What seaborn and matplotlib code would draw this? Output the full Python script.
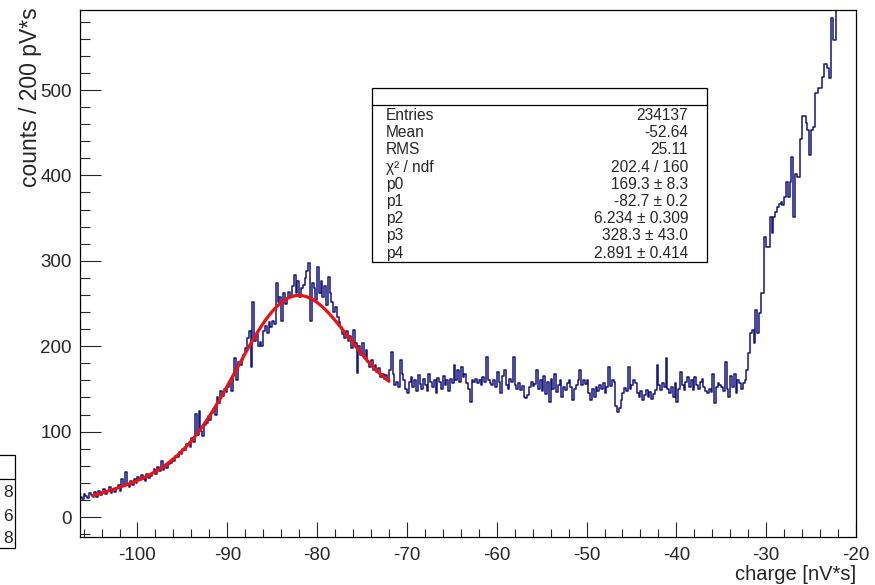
import numpy as np
import pandas as pd
import matplotlib
matplotlib.use("Agg")
import matplotlib.pyplot as plt
import seaborn as sns
from matplotlib.patches import Rectangle
from matplotlib.lines import Line2D
from matplotlib.ticker import MultipleLocator

# ---------------- data ----------------
bin_start = -106.4
bin_width = 0.2

counts_left_tail = [
    24, 21, 27, 25, 22, 28, 26, 23, 29, 24,
    31, 26, 29, 33, 27, 30, 35, 28, 32, 29,
    34, 38, 31, 44, 36, 53, 39, 35, 42, 37,
    44, 40, 47, 43, 49, 45, 42, 50, 46, 48,
    52, 56, 50, 58, 54, 66, 55, 60, 57, 62,
    63, 68, 66, 72, 70, 76, 74, 80, 78, 85,
    86, 82, 92, 88, 121, 96, 124, 101, 95, 108,
    110, 118, 114, 122, 127, 120, 140, 133, 148, 142,
]
counts_peak = [
    150, 146, 152, 158, 148, 165, 186, 160, 182, 178,
    184, 190, 198, 210, 218, 176, 252, 206, 214, 200,
    205, 200, 218, 224, 216, 228, 222, 230, 226, 274,
    252, 258, 230, 262, 250, 256, 264, 258, 270, 283,
    262, 276, 258, 268, 272, 280, 288, 297, 230, 274,
    268, 254, 293, 262, 276, 258, 270, 248, 281, 262,
    252, 240, 246, 234, 228, 222, 214, 210, 218, 206,
    212, 198, 219, 204, 169, 200, 190, 204, 186, 196,
    182, 176, 184, 172, 178, 170, 174, 164, 168, 162,
    166, 160, 172, 193, 168, 155, 158, 152, 184, 168,
]
counts_plateau = [
    160, 150, 145, 158, 164, 152, 160, 148, 166, 156,
    150, 162, 155, 147, 168, 158, 152, 160, 145, 163,
    158, 150, 165, 155, 160, 148, 162, 157, 178, 160,
    172, 158, 176, 164, 168, 157, 150, 135, 160, 158,
    162, 157, 160, 155, 164, 158, 187, 160, 157, 155,
    160, 152, 170, 158, 145, 165, 172, 155, 150, 162,
    158, 187, 155, 150, 157, 149, 154, 141, 139, 143,
    152, 158, 154, 156, 172, 150, 160, 148, 165, 144,
    158, 135, 162, 150, 168, 146, 155, 160, 141, 152,
    149, 157, 160, 152, 137, 150, 155, 160, 172, 155,
    160, 156, 160, 145, 137, 150, 140, 152, 148, 155,
    150, 157, 145, 152, 176, 154, 160, 158, 130, 123,
    128, 137, 145, 151, 148, 176, 150, 155, 160, 157,
    145, 140, 148, 137, 143, 149, 140, 146, 138, 144,
    149, 178, 155, 149, 157, 152, 186, 150, 145, 152,
    141, 157, 135, 150, 170, 155, 149, 158, 164, 152,
    160, 149, 164, 155, 150, 158, 162, 152, 148, 145,
    150, 146, 168, 133, 152, 157, 155, 152, 148, 181,
    150, 141, 165, 152, 168, 145, 160, 157, 150, 157,
]
counts_rise = [
    160, 172, 192, 215, 219, 204, 242, 215, 239, 262,
    262, 328, 316, 316, 351, 332, 351, 357, 363, 366,
    369, 365, 375, 392, 375, 392, 422, 351, 402, 398,
    398, 443, 469, 469, 461, 453, 424, 453, 457, 496,
    496, 502, 502, 515, 531, 531, 526, 514, 584, 558,
    558, 610, 620, 640, 650, 660, 670, 690, 700, 715, 730, 745,
]

# fit: gaus(p0,p1,p2) + pol1(p3,p4)
fit_params = [169.3, -82.7, 6.234, 328.3, 2.891]
fit_range = [-105.0, -72.0]

stat_labels = ["Entries", "Mean", "RMS", "\u03c7\u00b2 / ndf", "p0", "p1", "p2", "p3", "p4"]
stat_values = ["234137", "-52.64", "25.11", "202.4 / 160",
               "169.3 \u00b1 8.3", "-82.7 \u00b1 0.2", "6.234 \u00b1 0.309",
               "328.3 \u00b1 43.0", "2.891 \u00b1 0.414"]

x_ticks = [-100, -90, -80, -70, -60, -50, -40, -30, -20]
y_ticks = [0, 100, 200, 300, 400, 500]
x_label = "charge [nV*s]"
y_label = "counts / 200 pV*s"
side_box_digits = ["8", "6", "8"]

# ---------------- figure ----------------
sns.set_style("ticks")
plt.rcParams["font.family"] = ["Liberation Sans", "DejaVu Sans"]
plt.rcParams["axes.unicode_minus"] = False

W, H = 875, 585
fig = plt.figure(figsize=(W / 100, H / 100), dpi=100)
fig.patch.set_facecolor("white")

def fx(px):
    return px / W

def fy(py):
    return 1 - py / H

ax_l, ax_r, ax_t, ax_b = 80, 856, 10, 537
ax = fig.add_axes([fx(ax_l), fy(ax_b), fx(ax_r) - fx(ax_l), fy(ax_t) - fy(ax_b)])

counts = np.array(counts_left_tail + counts_peak + counts_plateau + counts_rise, dtype=float)
n_bins = len(counts)
bin_end = bin_start + bin_width * n_bins
centers = bin_start + bin_width * (np.arange(n_bins) + 0.5)
df = pd.DataFrame({"charge": centers, "counts": counts})

sns.histplot(data=df, x="charge", weights="counts", bins=n_bins,
             binrange=(bin_start, bin_end), element="step",
             fill=False, color="#15157a", linewidth=1.1, ax=ax)

p0, p1, p2, p3, p4 = fit_params
xf = np.linspace(fit_range[0], fit_range[1], 500)
yf = p0 * np.exp(-0.5 * ((xf - p1) / p2) ** 2) + p3 + p4 * xf
sns.lineplot(x=xf, y=yf, color="#ee1111", linewidth=2.3, ax=ax)

ax.set_xlim(bin_start, bin_end)
ax.set_ylim(-23.4, 593.7)
ax.set_xticks(x_ticks)
ax.set_yticks(y_ticks)
ax.xaxis.set_minor_locator(MultipleLocator(2))
ax.yaxis.set_minor_locator(MultipleLocator(20))
ax.tick_params(axis="x", which="major", direction="in", length=11, width=0.8,
               labelsize=13.5, pad=7, top=False)
ax.tick_params(axis="x", which="minor", direction="in", length=6, width=0.8, top=False)
ax.tick_params(axis="y", which="major", direction="in", length=15, width=0.8,
               labelsize=13.5, pad=6, right=False)
ax.tick_params(axis="y", which="minor", direction="in", length=7.5, width=0.8, right=False)
for s in ax.spines.values():
    s.set_visible(True)
    s.set_linewidth(0.9)
    s.set_color("black")
ax.set_xlabel("")
ax.set_ylabel("")

fig.text(fx(ax_r), fy(575), x_label, ha="right", va="center", fontsize=14.5)
fig.text(fx(31), fy(7), y_label, ha="center", va="top", rotation=90, fontsize=16.5)

# stats box
bx0, bx1, by0, by1, bhead = 372, 707, 88, 262, 105
fig.add_artist(Rectangle((fx(bx0), fy(by1)), fx(bx1) - fx(bx0), fy(by0) - fy(by1),
                         transform=fig.transFigure, facecolor="white",
                         edgecolor="black", linewidth=0.9, zorder=5))
fig.add_artist(Line2D([fx(bx0), fx(bx1)], [fy(bhead), fy(bhead)],
                      transform=fig.transFigure, color="black", linewidth=0.9, zorder=6))
row0, drow = 115.5, 17.2
for i, (lab, val) in enumerate(zip(stat_labels, stat_values)):
    yy = fy(row0 + i * drow)
    fig.text(fx(386), yy, lab, ha="left", va="center", fontsize=11.2, zorder=7)
    fig.text(fx(688), yy, val, ha="right", va="center", fontsize=11.2, zorder=7)

# partially visible box at lower left
fig.add_artist(Rectangle((fx(-20), fy(548)), fx(35), fy(455) - fy(548),
                         transform=fig.transFigure, facecolor="white",
                         edgecolor="black", linewidth=0.9, zorder=5))
fig.add_artist(Line2D([fx(-20), fx(15)], [fy(479), fy(479)],
                      transform=fig.transFigure, color="black", linewidth=0.9, zorder=6))
for i, yy in enumerate([492.5, 516.5, 538.5]):
    fig.text(fx(13), fy(yy), side_box_digits[i], ha="right", va="center",
             fontsize=12.5, zorder=7)

fig.savefig("out.png", dpi=100, facecolor="white")
